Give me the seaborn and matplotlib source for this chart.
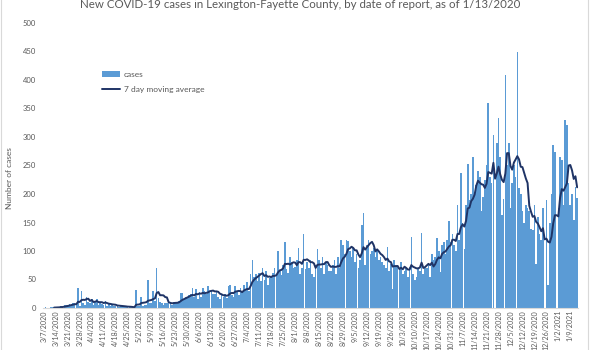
import numpy as np
import pandas as pd
import matplotlib
matplotlib.use("Agg")
import matplotlib.pyplot as plt
import seaborn as sns
from matplotlib.patches import Patch, Rectangle
from matplotlib.lines import Line2D

# ---------------- data ----------------
start_date = "2020-03-07"
# daily new cases, one row per week starting Saturday
cases = [
    0, 1, 0, 0, 1, 1, 2,            # 3/7
    1, 2, 1, 3, 2, 5, 6,            # 3/14
    6, 7, 5, 8, 9, 6, 35,           # 3/21
    4, 30, 9, 6, 20, 10, 8,         # 3/28
    16, 5, 12, 15, 6, 10, 7,        # 4/4
    6, 12, 4, 8, 3, 5, 4,           # 4/11
    4, 3, 2, 5, 3, 2, 1,            # 4/18
    1, 2, 1, 2, 1, 32, 3,           # 4/25
    3, 19, 4, 5, 6, 49, 8,          # 5/2
    8, 30, 12, 71, 18, 10, 8,       # 5/9
    6, 9, 8, 12, 10, 5, 11,         # 5/16
    8, 10, 12, 27, 26, 15, 20,      # 5/23
    18, 22, 25, 35, 20, 33, 15,     # 5/30
    28, 20, 35, 30, 25, 38, 30,     # 6/6
    32, 24, 25, 30, 20, 15, 22,     # 6/13
    20, 25, 18, 38, 40, 22, 20,     # 6/20
    38, 30, 22, 35, 28, 40, 33,     # 6/27
    45, 30, 60, 84, 55, 60, 48,     # 7/4
    62, 48, 70, 50, 65, 40, 52,     # 7/11
    55, 62, 70, 58, 100, 65, 58,    # 7/18
    75, 116, 68, 62, 90, 80, 70,    # 7/25
    72, 85, 105, 60, 70, 130, 68,   # 8/1
    80, 70, 85, 60, 55, 75, 104,    # 8/8
    85, 70, 90, 60, 80, 75, 65,     # 8/15
    65, 75, 85, 60, 90, 70, 119,    # 8/22
    110, 95, 120, 118, 100, 90, 105,  # 8/29
    80, 95, 70, 85, 146, 166, 75,   # 9/5
    110, 120, 95, 100, 105, 90, 100,  # 9/12
    85, 90, 80, 75, 70, 107, 65,    # 9/19
    78, 34, 85, 75, 72, 70, 80,     # 9/26
    60, 65, 70, 55, 72, 125, 60,    # 10/3
    50, 55, 70, 65, 132, 60, 70,    # 10/10
    70, 75, 55, 95, 85, 90, 122,    # 10/17
    100, 63, 110, 115, 95, 120, 153,  # 10/24
    115, 130, 110, 100, 181, 120, 236,  # 10/31
    150, 103, 180, 253, 190, 200, 265,  # 11/7
    200, 215, 240, 230, 170, 195, 225,  # 11/14
    250, 360, 230, 220, 303, 0, 290,    # 11/21
    333, 265, 163, 192, 409, 250, 290,  # 11/28
    175, 220, 250, 230, 450, 210, 200,  # 12/5
    170, 150, 180, 175, 170, 138, 137,  # 12/12
    180, 78, 160, 130, 120, 175, 0,     # 12/19
    189, 40, 150, 200, 286, 274, 0,     # 12/26
    175, 265, 260, 180, 329, 321, 220,  # 1/2
    181, 200, 154, 213, 193,            # 1/9
]

title = "New COVID-19 cases in Lexington-Fayette County, by date of report, as of 1/13/2020"
y_label = "Number of cases"
legend_labels = ["cases", "7 day moving average"]
y_ticks = [0, 50, 100, 150, 200, 250, 300, 350, 400, 450, 500]

dates = pd.date_range(start_date, periods=len(cases), freq="D")
df = pd.DataFrame({"idx": np.arange(len(cases)), "cases": cases})
df["ma"] = df["cases"].rolling(7).mean()
date_labels = [f"{d.month}/{d.day}/{d.year}" for d in dates]

# ---------------- style ----------------
sns.set_theme(style="white")
plt.rcParams["font.family"] = ["Lato", "DejaVu Sans"]

BAR = "#5B9BD5"
LINE = "#1F3466"
TXT = "#595959"

fig = plt.figure(figsize=(6, 3.5), dpi=100)
ax = fig.add_axes([43 / 600, 1 - 308 / 350, (578 - 43) / 600, (308 - 23) / 350])

sns.barplot(data=df, x="idx", y="cases", color=BAR, width=0.95,
            errorbar=None, ax=ax, saturation=1, linewidth=0, edgecolor="none")
sns.lineplot(x=df["idx"], y=df["ma"], color=LINE, linewidth=1.4, ax=ax)

ax.set_xlim(-0.5, len(cases) - 0.5)
ax.set_ylim(0, 500)
ax.set_yticks(y_ticks)
ax.set_yticklabels([str(v) for v in y_ticks], fontsize=5.5, color=TXT)
tick_pos = list(range(0, len(cases), 7))
ax.set_xticks(tick_pos)
ax.set_xticklabels([date_labels[i] for i in tick_pos], rotation=90,
                   fontsize=5.1, color=TXT)
ax.tick_params(axis="y", length=0, pad=5)
ax.tick_params(axis="x", length=0, pad=1.5)
ax.set_xlabel("")
ax.set_ylabel(y_label, fontsize=6, color=TXT)
ax.yaxis.set_label_coords(-0.056, 0.455)

for s in ["top", "right", "left"]:
    ax.spines[s].set_visible(False)
ax.spines["bottom"].set_color("#D9D9D9")
ax.spines["bottom"].set_linewidth(0.8)

handles = [Patch(facecolor=BAR, edgecolor="none"),
           Line2D([0], [0], color=LINE, linewidth=1.4)]
fig.legend(handles, legend_labels, loc="upper left",
           bbox_to_anchor=(102 / 600, 1 - 71 / 350), frameon=False,
           fontsize=6, labelcolor=TXT, handlelength=2.2, handletextpad=0.4,
           labelspacing=1.0, borderpad=0, borderaxespad=0)

fig.text(0.5, 1 - 4 / 350, title, ha="center", va="center",
         fontsize=8.3, color=TXT)

# chart-area border
fig.add_artist(Rectangle((1 / 600, -0.05), (588 - 1) / 600, 1.1,
                         transform=fig.transFigure, fill=False,
                         edgecolor="#D9D9D9", linewidth=0.8))

fig.savefig("out.png", dpi=100)
